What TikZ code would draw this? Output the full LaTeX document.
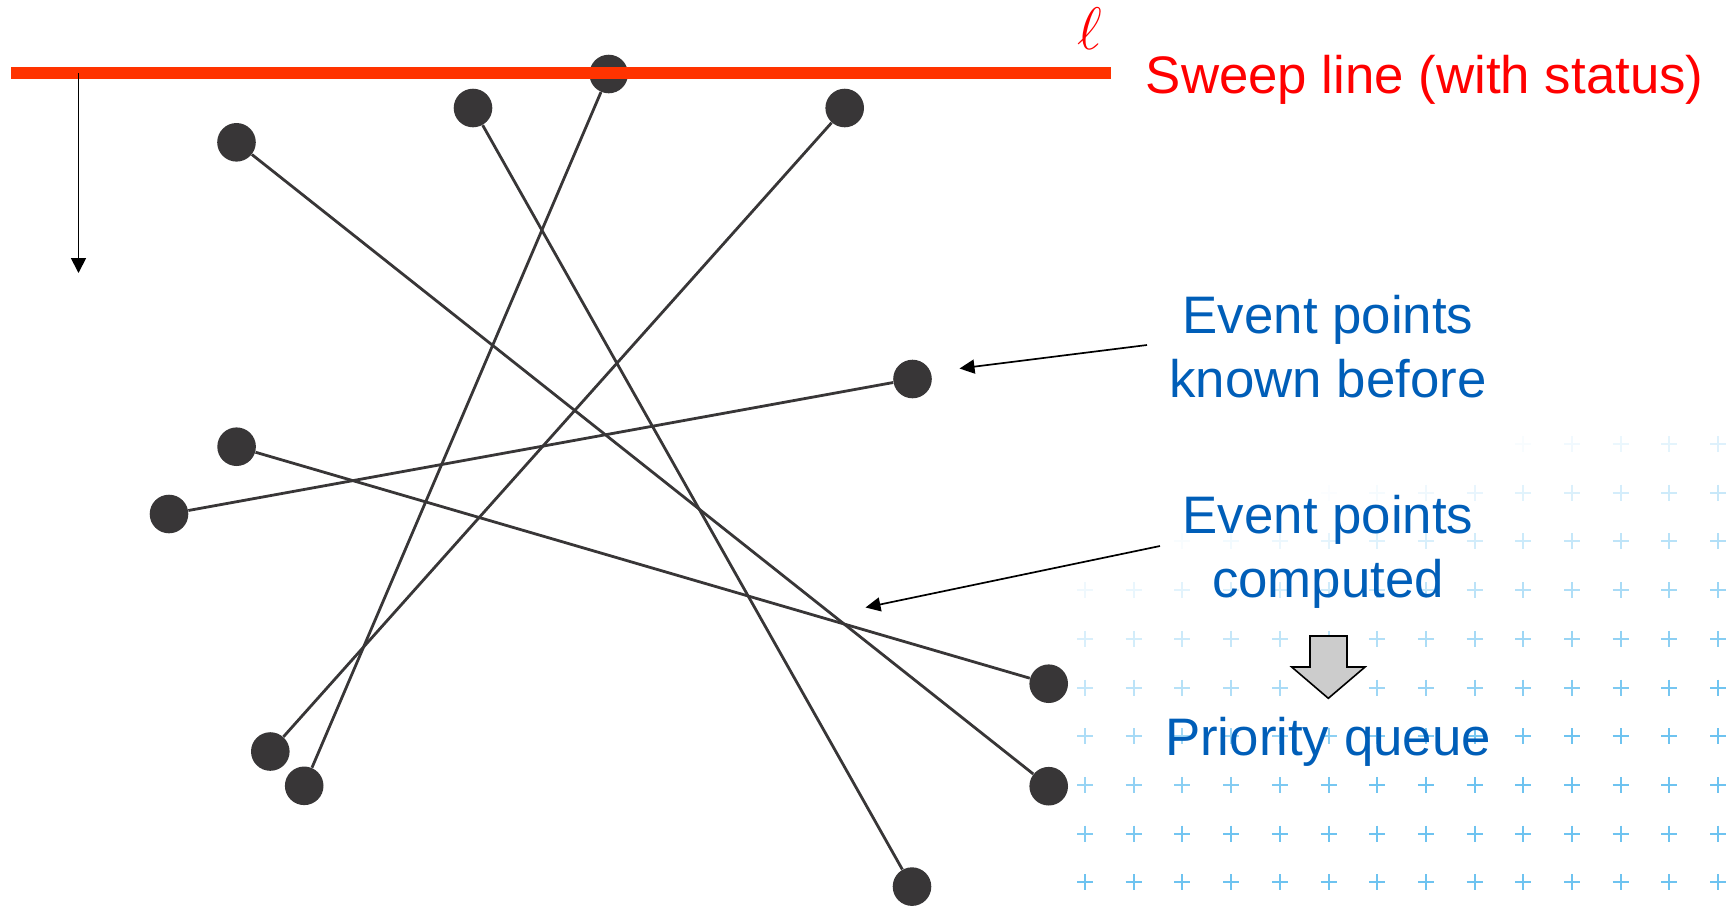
\RequirePackage{fix-cm}
\documentclass[tikz,border=0pt]{standalone}
\usepackage{fontspec}
\setmainfont{Liberation Sans}
\usetikzlibrary{arrows.meta}

\definecolor{sweepred}{RGB}{255,51,0}
\definecolor{labelred}{RGB}{255,0,0}
\definecolor{labelblue}{RGB}{0,94,184}
\definecolor{segdark}{RGB}{56,54,55}
\definecolor{crossblue}{RGB}{110,195,240}
\definecolor{blockgray}{RGB}{204,204,204}

\begin{document}
\begin{tikzpicture}[x=0.5pt,y=-0.5pt,
  endpoint/.style={circle,fill=segdark,inner sep=0pt,minimum size=19.3pt},
  segment/.style={draw=segdark,line width=1.4pt},
  labeltext/.style={font=\fontsize{26.4}{32}\selectfont,inner sep=0pt},
  bluelabel/.style={labeltext,text=labelblue,align=center,anchor=base},
  pointer/.style={draw=black,line width=0.85pt,-{Triangle[length=7.5pt,width=7pt]}},
  crossmark/.style={draw=crossblue,line width=1pt},
]
\useasboundingbox (0,0) rectangle (1729,907);

% faded grid of small crosses in the lower right
\foreach \i in {0,...,13}{
  \foreach \j in {0,...,9}{
    \pgfmathsetmacro\cx{1085+48.7*\i}
    \pgfmathsetmacro\cy{444+48.7*\j}
    \pgfmathsetmacro\op{max(0,min(1,(\cx-1085)/1100+(\cy-555)/320))}
    \ifdim\op pt>0.01pt
      \draw[crossmark,opacity=\op] (\cx-8,\cy) -- (\cx+8,\cy) (\cx,\cy-8) -- (\cx,\cy+8);
    \fi
  }
}

% segment end points
\node[endpoint] (a) at (608.7,74) {};
\node[endpoint] (b) at (473,108) {};
\node[endpoint] (c) at (844.7,108) {};
\node[endpoint] (d) at (236.5,142.3) {};
\node[endpoint] (e) at (912.5,379) {};
\node[endpoint] (f) at (236.6,446.7) {};
\node[endpoint] (g) at (169,514) {};
\node[endpoint] (h) at (1048.7,683.7) {};
\node[endpoint] (i) at (270.3,751.5) {};
\node[endpoint] (j) at (304.2,785.8) {};
\node[endpoint] (k) at (1048.7,786.2) {};
\node[endpoint] (l) at (912,886.6) {};

% the segments
\draw[segment] (a) -- (j);
\draw[segment] (b) -- (l);
\draw[segment] (c) -- (i);
\draw[segment] (d) -- (k);
\draw[segment] (e) -- (g);
\draw[segment] (f) -- (h);

% sweep line and its direction
\coordinate (sl-w) at (11,73);
\coordinate (sl-e) at (1111,73);
\draw[sweepred,line width=6pt] (sl-w) -- (sl-e);
\coordinate (dir-top) at (78.5,73);
\coordinate (dir-tip) at (78.5,273);
\draw[line width=0.9pt,-{Triangle[length=7.5pt,width=7.5pt]}] (dir-top) -- (dir-tip);

\node[inner sep=0pt,text=labelred,font=\fontsize{30}{30}\selectfont] (ell) at (1090,29) {$\ell$};
\node[labeltext,text=labelred,anchor=base west] (sweep) at (1145.5,93) {Sweep line (with status)};

% labels on the right (base anchor sits on the last line)
\node[bluelabel] (known) at (1328,397) {Event points\\known before};
\node[bluelabel] (computed) at (1328,597) {Event points\\computed};
\node[bluelabel] (queue) at (1328,755) {Priority queue};

\coordinate (known-start) at (1147,345);
\coordinate (known-tip) at (959.5,368.5);
\draw[pointer] (known-start) -- (known-tip);
\coordinate (comp-start) at (1160,546);
\coordinate (comp-tip) at (865.5,607.5);
\draw[pointer] (comp-start) -- (comp-tip);

% block arrow from computed events into the queue
\draw[fill=blockgray,draw=black,line width=0.8pt,line join=miter]
  (1310,636) -- (1347,636) -- (1347,667) -- (1365,667) -- (1328.3,698.3)
  -- (1291.7,667) -- (1310,667) -- cycle;
\end{tikzpicture}
\end{document}
